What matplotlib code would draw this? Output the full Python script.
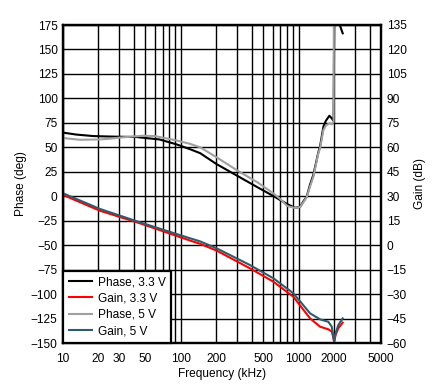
import matplotlib
matplotlib.use('Agg')
import matplotlib.pyplot as plt
from matplotlib.ticker import FixedLocator, LogLocator, NullFormatter
import numpy as np

plt.rcParams['font.family'] = ['Liberation Sans', 'DejaVu Sans']
plt.rcParams['font.size'] = 8.6

# Phase, 3.3 V (deg)
f_ph33 = [10, 13, 18, 25, 42, 66, 92, 120, 146, 200, 300, 450, 610, 700, 800, 930,
          1030, 1100, 1170, 1250, 1334, 1470, 1520, 1622, 1700, 1824, 1910, 1980,
          2010, 2220, 2365]
ph33 = [65, 63, 61.5, 61, 60.5, 58, 53, 48, 44, 33, 21, 9, 0.2, -4, -8, -11.8,
        -10.8, -5, -0.5, 12, 22, 45, 51, 71, 77, 82.3, 79.6, 77,
        200, 176, 166.5]

# Phase, 5 V (deg)
f_ph5 = [10, 13.9, 20, 25, 32, 47.6, 60, 92, 120, 146, 200, 298, 450, 610, 700, 800,
         930, 1030, 1100, 1170, 1250, 1334, 1470, 1520, 1622, 1700, 1824, 1910,
         1980, 2000]
ph5 = [59.5, 57.7, 58, 58.8, 60.2, 61.8, 61.5, 57, 53.5, 50, 40, 26.7, 14, 2.9,
       -3, -10, -12, -11, -6, -1, 10, 20, 44, 49, 67.6, 72, 74.5, 73.5,
       76, 300]

# Gain (dB)
f_gain = [10, 20.6, 45, 120, 146, 202, 386, 610, 901, 1250, 1520, 1786, 1910, 1960,
          2000, 2060, 2170, 2365]
gain33 = [30.8, 21.1, 13.4, 2.8, 0.8, -3.4, -14.2, -22.4, -31.6, -44.9, -50, -51.6,
          -53, -56, -59.2, -55, -51, -47.5]
gain5 = [31.8, 22.2, 14.0, 4.2, 2.3, -2.0, -12.2, -20.3, -29.5, -41.8, -45.5, -47,
         -50, -55, -59.2, -54, -49, -44.9]

x_ticks = [10, 20, 30, 50, 100, 200, 500, 1000, 2000, 5000]
ph_ticks = np.arange(-150, 176, 25)
gain_ticks = np.arange(-60, 136, 15)

fig = plt.figure(figsize=(4.38, 3.91), dpi=100)
ax = fig.add_axes([63 / 438, 1 - 343 / 391, 318 / 438, 318 / 391])
ax2 = ax.twinx()

l1, = ax.plot(f_ph33, ph33, color='black', lw=1.5, label='Phase, 3.3 V')
l3, = ax.plot(f_ph5, ph5, color='#A0A0A0', lw=1.5, label='Phase, 5 V')
l2, = ax2.plot(f_gain, gain33, color='#FF0000', lw=1.5, label='Gain, 3.3 V')
l4, = ax2.plot(f_gain, gain5, color='#2E5B6E', lw=1.5, label='Gain, 5 V')

ax.set_xscale('log')
ax.set_xlim(10, 5000)
ax.set_ylim(-150, 175)
ax2.set_ylim(-60, 135)
ax.xaxis.set_major_locator(FixedLocator(x_ticks))
ax.set_xticklabels([str(t) for t in x_ticks])
ax.xaxis.set_minor_locator(LogLocator(base=10, subs=np.arange(2, 10), numticks=20))
ax.xaxis.set_minor_formatter(NullFormatter())
ax.set_yticks(ph_ticks)
ax2.set_yticks(gain_ticks)

ax.grid(True, which='both', axis='x', color='black', lw=1)
ax.grid(True, which='major', axis='y', color='black', lw=1)
ax.set_axisbelow(True)

ax.tick_params(axis='both', which='both', length=0)
ax.tick_params(axis='x', pad=7)
ax.tick_params(axis='y', pad=4)
ax2.tick_params(axis='y', length=0, pad=4)

for a in (ax, ax2):
    for s in a.spines.values():
        s.set_linewidth(1.6)

ax.set_ylabel('Phase (deg)', labelpad=3)
ax2.set_ylabel('Gain (dB)', labelpad=5)
ax.set_xlabel('Frequency (kHz)', labelpad=2)

leg = ax2.legend(handles=[l1, l2, l3, l4], loc='lower left', borderaxespad=0,
                 fancybox=False, framealpha=1, edgecolor='black',
                 handlelength=1.9, handletextpad=0.5, labelspacing=0.35,
                 borderpad=0.5)
leg.get_frame().set_linewidth(1.6)

fig.savefig('out.png', dpi=100)
